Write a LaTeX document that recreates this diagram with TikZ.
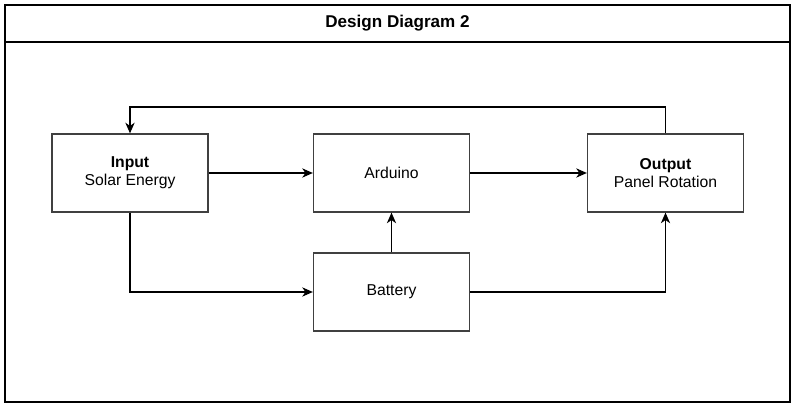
\documentclass[tikz,border=0pt]{standalone}
\usepackage{fontspec}
\setmainfont{Liberation Sans}
\usetikzlibrary{positioning,calc,arrows.meta}

\tikzset{
  block/.style={draw=black!75,line width=1pt,fill=white,minimum width=117pt,minimum height=58.5pt,align=center,font=\fontsize{11.8}{13.5}\selectfont},
  link/.style={-{Stealth[length=8pt,width=7pt,inset=2.5pt]},line width=0.8pt}
}

\begin{document}
\begin{tikzpicture}[x=0.75pt,y=-0.75pt]
\useasboundingbox (0,0) rectangle (797,409);
% frame and title
\draw[line width=1.6pt] (5,5) rectangle (790,402);
\draw[line width=1.6pt] (5,42) -- (790,42);
\node[font=\fontsize{12.8}{14}\selectfont\bfseries] (title) at (397.5,23.5) {Design Diagram 2};

% blocks
\node[block] (in) at (130,173) {\textbf{Input}\\Solar Energy};
\node[block] (ard) at (391.5,173) {Arduino};
\node[block] (out) at (665.5,173) {\textbf{Output}\\Panel Rotation};
\node[block] (bat) at (391.5,292) {Battery};
\coordinate (loop) at (400,107);

% connections
\foreach \x/\y in {in/ard,ard/out,bat/ard}
	\draw[link](\x)--(\y);
\draw[link](out.north)--(out.north|-loop)-|(in.north);
\draw[link](in.south)|-(bat.west);
\draw[link](bat.east)-|(out.south);

\end{tikzpicture}
\end{document}
